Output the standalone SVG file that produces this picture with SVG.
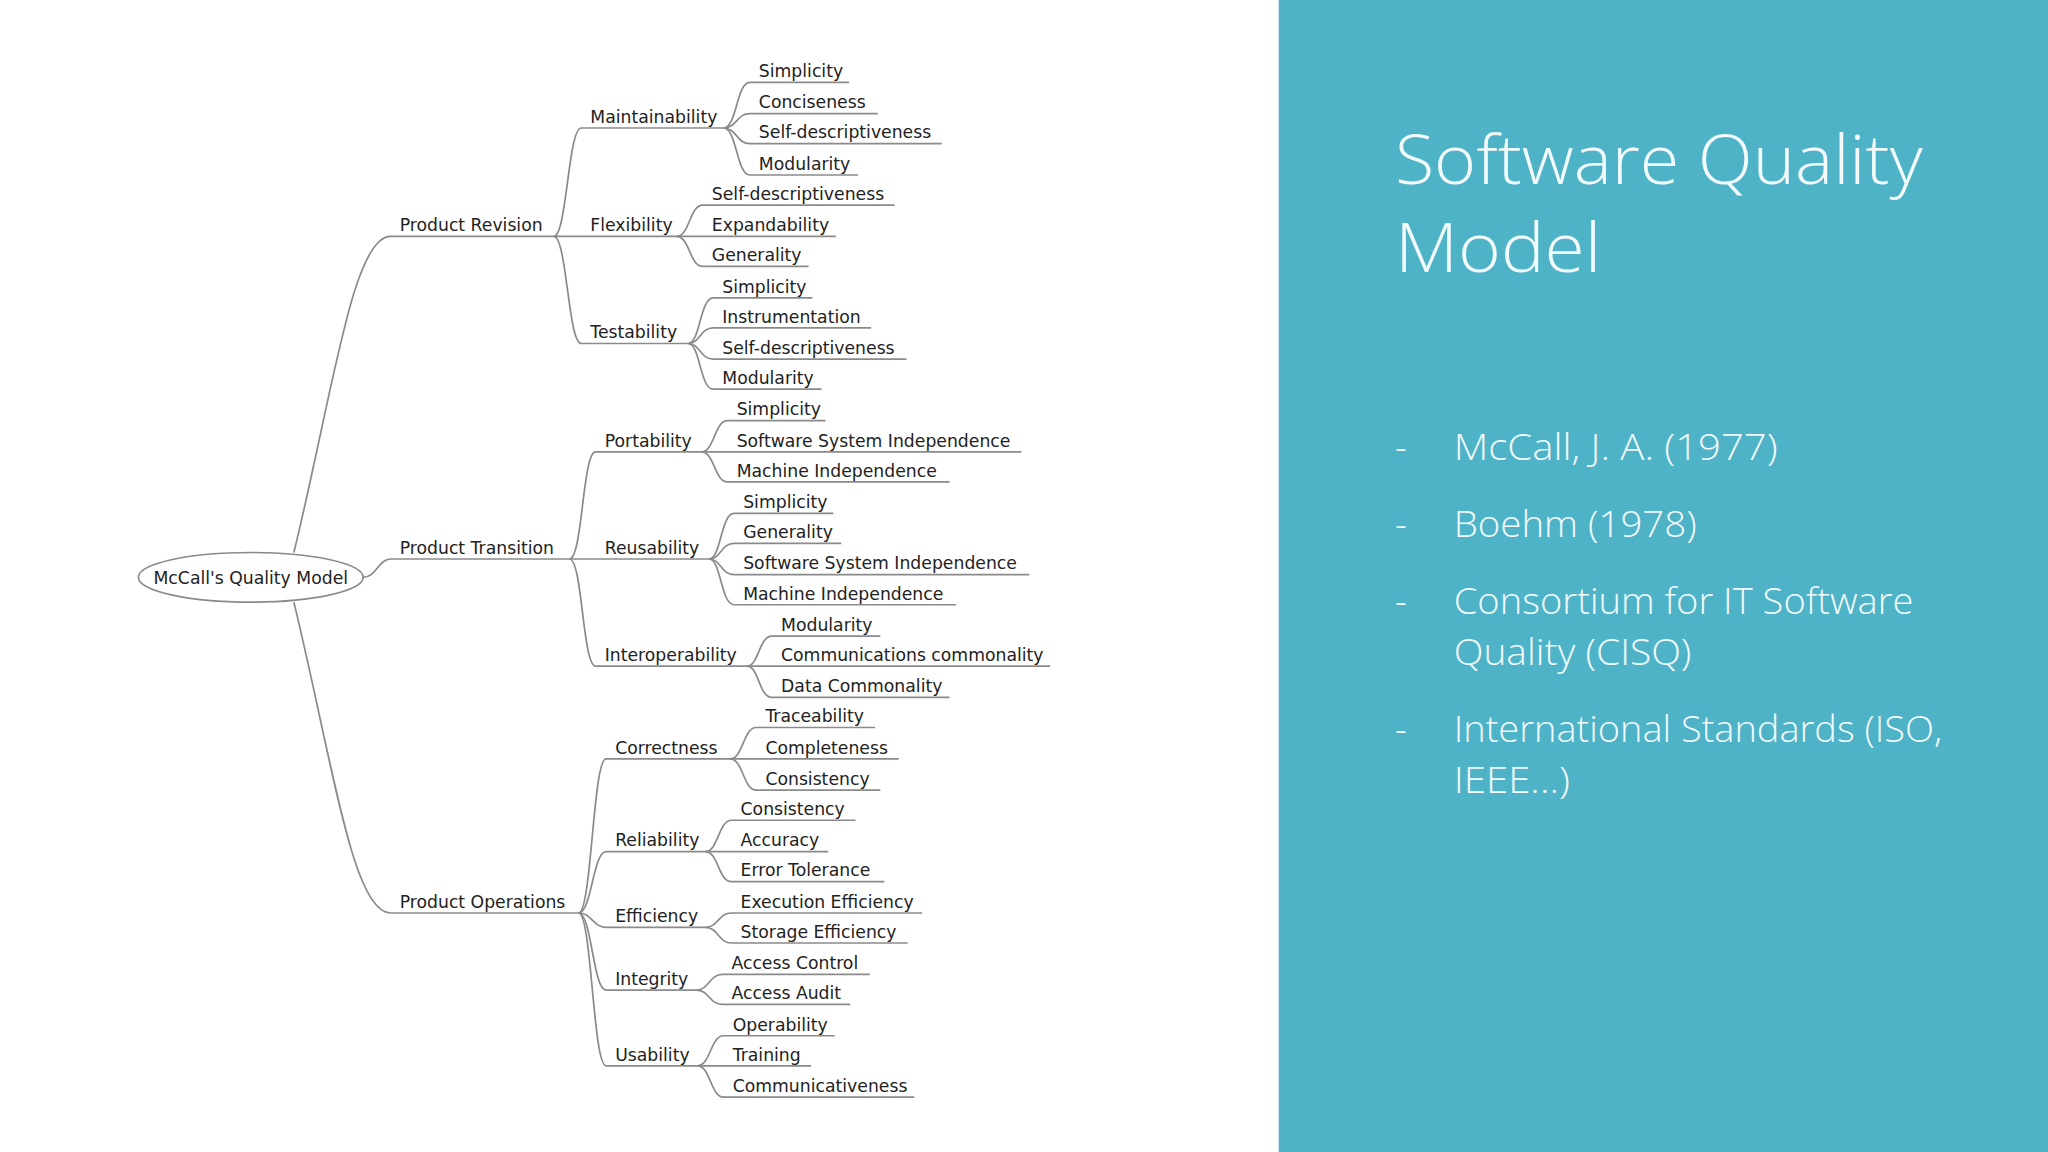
<svg xmlns="http://www.w3.org/2000/svg" width="2048" height="1152" viewBox="0 0 2048 1152">
<style>
.t{font-family:"DejaVu Sans",sans-serif;font-size:13.2px;fill:#222}
.c path{fill:none;stroke:#8a8a8a;stroke-width:1.3}
.r{font-family:"Open Sans","Liberation Sans",sans-serif;fill:#f2fafc;font-weight:300}
</style>
<rect width="2048" height="1152" fill="#ffffff"/>
<g transform="scale(1.30612)">
<rect x="979" y="0" width="590" height="882" fill="#4fb3c8"/>
<text class="r" x="1068" y="141" font-size="52" textLength="404" lengthAdjust="spacingAndGlyphs">Software Quality</text>
<text class="r" x="1068" y="208" font-size="52" textLength="158" lengthAdjust="spacingAndGlyphs">Model</text>
<g class="r" font-size="28">
<text x="1068" y="352">-</text><text x="1113" y="352" textLength="248" lengthAdjust="spacingAndGlyphs">McCall, J. A. (1977)</text>
<text x="1068" y="411">-</text><text x="1113" y="411" textLength="186" lengthAdjust="spacingAndGlyphs">Boehm (1978)</text>
<text x="1068" y="470">-</text><text x="1113" y="470" textLength="352" lengthAdjust="spacingAndGlyphs">Consortium for IT Software</text>
<text x="1113" y="509" textLength="182" lengthAdjust="spacingAndGlyphs">Quality (CISQ)</text>
<text x="1068" y="568">-</text><text x="1113" y="568" textLength="374" lengthAdjust="spacingAndGlyphs">International Standards (ISO,</text>
<text x="1113" y="607" textLength="89" lengthAdjust="spacingAndGlyphs">IEEE...)</text>
</g>
<g class="c" id="connectors">
<path d="M225,423 C255,300 270,181 299,181 H424"/>
<path d="M278,442 C288,442 290,428 299,428 H436"/>
<path d="M225,461 C255,585 270,699 299,699 H443"/>
<path d="M424,181 C434,181 435,98 445,98 H554"/>
<path d="M424,181 H518"/>
<path d="M424,181 C434,181 435,263 445,263 H527"/>
<path d="M554,98 C564,98 564,63 574,63 H650"/>
<path d="M554,98 C564,98 564,87 574,87 H672"/>
<path d="M554,98 C564,98 564,110 574,110 H721"/>
<path d="M554,98 C564,98 564,134 574,134 H657"/>
<path d="M518,181 C528,181 528,157 538,157 H685"/>
<path d="M518,181 H640"/>
<path d="M518,181 C528,181 528,204 538,204 H619"/>
<path d="M527,263 C536,263 536,228 546,228 H622"/>
<path d="M527,263 C536,263 536,251 546,251 H667"/>
<path d="M527,263 C536,263 536,275 546,275 H694"/>
<path d="M527,263 C536,263 536,298 546,298 H629"/>
<path d="M436,428 C446,428 446,346 456,346 H537"/>
<path d="M436,428 H543"/>
<path d="M436,428 C446,428 446,510 456,510 H572"/>
<path d="M537,346 C547,346 547,322 557,322 H632"/>
<path d="M537,346 H782"/>
<path d="M537,346 C547,346 547,369 557,369 H727"/>
<path d="M543,428 C552,428 552,393 562,393 H638"/>
<path d="M543,428 C552,428 552,416 562,416 H644"/>
<path d="M543,428 C552,428 552,440 562,440 H788"/>
<path d="M543,428 C552,428 552,463 562,463 H732"/>
<path d="M572,510 C581,510 581,487 591,487 H674"/>
<path d="M572,510 H804"/>
<path d="M572,510 C581,510 581,534 591,534 H727"/>
<path d="M443,699 C453,699 454,581 464,581 H559"/>
<path d="M443,699 C453,699 454,652 464,652 H540"/>
<path d="M443,699 C453,699 454,710 464,710 H540"/>
<path d="M443,699 C453,699 454,758 464,758 H533"/>
<path d="M443,699 C453,699 454,816 464,816 H534"/>
<path d="M559,581 C569,581 569,557 579,557 H670"/>
<path d="M559,581 H688"/>
<path d="M559,581 C569,581 569,605 579,605 H674"/>
<path d="M540,652 C550,652 550,628 560,628 H655"/>
<path d="M540,652 H634"/>
<path d="M540,652 C550,652 550,675 560,675 H677"/>
<path d="M540,710 C550,710 550,699 560,699 H706"/>
<path d="M540,710 C550,710 550,722 560,722 H695"/>
<path d="M533,758 C543,758 543,746 553,746 H666"/>
<path d="M533,758 C543,758 543,769 553,769 H651"/>
<path d="M534,816 C544,816 544,793 554,793 H639"/>
<path d="M534,816 H621"/>
<path d="M534,816 C544,816 544,840 554,840 H700"/>
</g>
<g id="root"><ellipse cx="192" cy="442" rx="86" ry="19" fill="#fff" stroke="#8a8a8a" stroke-width="1.3"/><text class="t" x="192" y="447" text-anchor="middle">McCall's Quality Model</text></g>
<g id="n-pr"><text class="t" x="306" y="177">Product Revision</text></g>
<g id="n-pt"><text class="t" x="306" y="424">Product Transition</text></g>
<g id="n-po"><text class="t" x="306" y="695">Product Operations</text></g>
<g id="n-maint"><text class="t" x="452" y="94">Maintainability</text></g>
<g id="n-flex"><text class="t" x="452" y="177">Flexibility</text></g>
<g id="n-test"><text class="t" x="452" y="259">Testability</text></g>
<g id="n-m1"><text class="t" x="581" y="59">Simplicity</text></g>
<g id="n-m2"><text class="t" x="581" y="83">Conciseness</text></g>
<g id="n-m3"><text class="t" x="581" y="106">Self-descriptiveness</text></g>
<g id="n-m4"><text class="t" x="581" y="130">Modularity</text></g>
<g id="n-f1"><text class="t" x="545" y="153">Self-descriptiveness</text></g>
<g id="n-f2"><text class="t" x="545" y="177">Expandability</text></g>
<g id="n-f3"><text class="t" x="545" y="200">Generality</text></g>
<g id="n-t1"><text class="t" x="553" y="224">Simplicity</text></g>
<g id="n-t2"><text class="t" x="553" y="247">Instrumentation</text></g>
<g id="n-t3"><text class="t" x="553" y="271">Self-descriptiveness</text></g>
<g id="n-t4"><text class="t" x="553" y="294">Modularity</text></g>
<g id="n-port"><text class="t" x="463" y="342">Portability</text></g>
<g id="n-reus"><text class="t" x="463" y="424">Reusability</text></g>
<g id="n-inter"><text class="t" x="463" y="506">Interoperability</text></g>
<g id="n-p1"><text class="t" x="564" y="318">Simplicity</text></g>
<g id="n-p2"><text class="t" x="564" y="342">Software System Independence</text></g>
<g id="n-p3"><text class="t" x="564" y="365">Machine Independence</text></g>
<g id="n-r1"><text class="t" x="569" y="389">Simplicity</text></g>
<g id="n-r2"><text class="t" x="569" y="412">Generality</text></g>
<g id="n-r3"><text class="t" x="569" y="436">Software System Independence</text></g>
<g id="n-r4"><text class="t" x="569" y="459">Machine Independence</text></g>
<g id="n-i1"><text class="t" x="598" y="483">Modularity</text></g>
<g id="n-i2"><text class="t" x="598" y="506">Communications commonality</text></g>
<g id="n-i3"><text class="t" x="598" y="530">Data Commonality</text></g>
<g id="n-corr"><text class="t" x="471" y="577">Correctness</text></g>
<g id="n-rel"><text class="t" x="471" y="648">Reliability</text></g>
<g id="n-eff"><text class="t" x="471" y="706">Efficiency</text></g>
<g id="n-int"><text class="t" x="471" y="754">Integrity</text></g>
<g id="n-usa"><text class="t" x="471" y="812">Usability</text></g>
<g id="n-c1"><text class="t" x="586" y="553">Traceability</text></g>
<g id="n-c2"><text class="t" x="586" y="577">Completeness</text></g>
<g id="n-c3"><text class="t" x="586" y="601">Consistency</text></g>
<g id="n-l1"><text class="t" x="567" y="624">Consistency</text></g>
<g id="n-l2"><text class="t" x="567" y="648">Accuracy</text></g>
<g id="n-l3"><text class="t" x="567" y="671">Error Tolerance</text></g>
<g id="n-e1"><text class="t" x="567" y="695">Execution Efficiency</text></g>
<g id="n-e2"><text class="t" x="567" y="718">Storage Efficiency</text></g>
<g id="n-g1"><text class="t" x="560" y="742">Access Control</text></g>
<g id="n-g2"><text class="t" x="560" y="765">Access Audit</text></g>
<g id="n-u1"><text class="t" x="561" y="789">Operability</text></g>
<g id="n-u2"><text class="t" x="561" y="812">Training</text></g>
<g id="n-u3"><text class="t" x="561" y="836">Communicativeness</text></g>
</g>
</svg>
